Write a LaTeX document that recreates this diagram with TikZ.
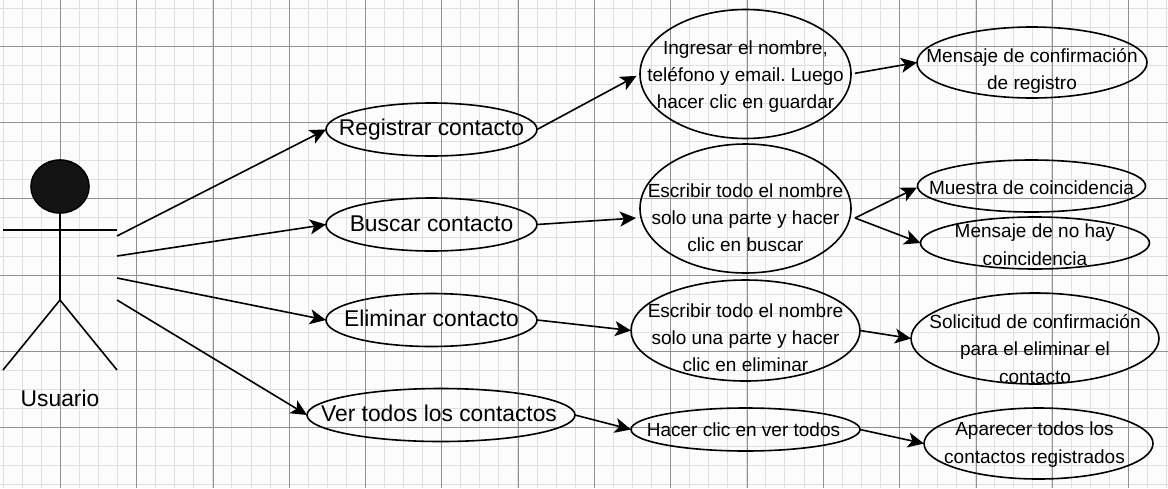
\documentclass[tikz,border=0pt]{standalone}
\usepackage{fontspec}
\setmainfont{Liberation Sans}
\usetikzlibrary{shapes.geometric,arrows.meta}

\newcommand\uctext[2][0pt]{\vbox to 0pt{\kern\dimexpr#1*2+4pt\relax\vss\hbox to 0pt{\hss\begin{tabular}{@{}c@{}}#2\end{tabular}\hss}\vss}}
\frenchspacing

\tikzset{
  usecase/.style n args={2}{ellipse,draw,line width=1.6pt,inner sep=0pt,outer sep=0pt,
    minimum width=#1pt,minimum height=#2pt,font=\fontsize{19}{27.4}\selectfont},
  mainfont/.style={font=\fontsize{22.8}{24}\selectfont},
  assoc/.style={line width=1.6pt,-{Stealth[length=16pt,width=15pt,inset=4pt]}},
  figure/.style={line width=1.6pt}
}

\begin{document}
\begin{tikzpicture}[x=1pt,y=-1pt]

\definecolor{fondo}{HTML}{FCFCFC}
\definecolor{rejillafina}{HTML}{E0E0E0}
\definecolor{rejillagruesa}{HTML}{909090}
\definecolor{cabeza}{HTML}{141414}

\useasboundingbox (0,0) rectangle (1168,488);
\fill[fondo] (0,0) rectangle (1168,488);

\foreach \i in {-3,...,58} {
  \pgfmathsetmacro\gx{60.3+19.07*\i}
  \draw[rejillafina,line width=1pt] (\gx,0) -- (\gx,488);
}
\foreach \i in {-2,...,23} {
  \pgfmathsetmacro\gy{46.3+19.07*\i}
  \draw[rejillafina,line width=1pt] (0,\gy) -- (1168,\gy);
}
\foreach \i in {0,...,14} {
  \pgfmathsetmacro\gx{60.3+76.3*\i}
  \draw[rejillagruesa,line width=.8pt] (\gx,0) -- (\gx,488);
}
\foreach \i in {0,...,5} {
  \pgfmathsetmacro\gy{46.3+76.25*\i}
  \draw[rejillagruesa,line width=.8pt] (0,\gy) -- (1168,\gy);
}

\node[ellipse,draw,figure,fill=cabeza,minimum width=58pt,minimum height=53pt,inner sep=0pt] (head) at (60,186.5) {};
\coordinate (hip) at (60,300);
\coordinate (armL) at (3,230);
\coordinate (armR) at (117,230);
\coordinate (footL) at (3,370);
\coordinate (footR) at (117,370);
\draw[figure] (head.south) -- (hip);
\draw[figure] (armL) -- (armR);
\draw[figure] (footL) -- (hip) -- (footR);
\node[mainfont,inner sep=0pt] (usuario) at (60,398) {Usuario};

\node[usecase={211}{53},mainfont] (registrar) at (431.5,129.5) {\uctext[-1pt]{Registrar contacto}};
\node[usecase={211}{53},mainfont] (buscar) at (431.5,224.5) {\uctext[.5pt]{Buscar contacto}};
\node[usecase={211}{53},mainfont] (eliminar) at (431.5,320) {\uctext{Eliminar contacto}};
\node[usecase={268}{53},mainfont] (vertodos) at (441,415) {\uctext{Ver todos los contactos\kern4pt}};

\node[usecase={211}{129}] (ingresar) at (745.5,74) {\uctext{Ingresar el nombre,\\teléfono y email. Luego\\hacer clic en guardar}};
\node[usecase={211}{129}] (escribirB) at (745.5,208.5) {\uctext[8.5pt]{Escribir todo el nombre\\solo una parte y hacer\\clic en buscar}};
\node[usecase={229}{101}] (escribirE) at (745.5,330.5) {\uctext[6.5pt]{Escribir todo el nombre\\solo una parte y hacer\\clic en eliminar}};
\node[usecase={229}{43}] (hacerclic) at (745.5,429.5) {\uctext{Hacer clic en ver todos\kern4pt}};

\node[usecase={230}{71}] (confirma) at (1032,62.5) {\uctext[6pt]{Mensaje de confirmación\\de registro}};
\node[usecase={228}{52}] (muestra) at (1031.5,186) {\uctext[1pt]{Muestra de coincidencia}};
\node[usecase={229}{52}] (nohay) at (1035,243) {\uctext[1pt]{Mensaje de no hay\\coincidencia}};
\node[usecase={248}{91}] (solicitud) at (1035,338.5) {\uctext[10pt]{Solicitud de confirmación\\para el eliminar el\\contacto}};
\node[usecase={229}{71}] (aparecer) at (1038.5,443.5) {\uctext[-1.5pt]{Aparecer todos los\kern8pt\\contactos registrados\kern8pt}};

\coordinate (brazoA) at (117,236);
\coordinate (brazoB) at (117,256);
\coordinate (brazoC) at (117,278);
\coordinate (brazoD) at (117,300);
\coordinate (escribirBin) at (636,218);
\coordinate (escribirBout) at (855,218);
\coordinate (muestraIn) at (917,187.5);

\draw[assoc] (brazoA) -- (registrar.west);
\draw[assoc] (brazoB) -- (buscar.west);
\draw[assoc] (brazoC) -- (eliminar.west);
\draw[assoc] (brazoD) -- (vertodos.west);

\draw[assoc,shorten >=4pt] (registrar.east) -- (ingresar.west);
\draw[assoc] (buscar.east) -- (escribirBin);
\draw[assoc] (eliminar.east) -- (escribirE.west);
\draw[assoc] (vertodos.east) -- (hacerclic.west);

\draw[assoc,shorten <=4pt] (ingresar.east) -- (confirma.west);
\draw[assoc] (escribirBout) -- (muestraIn);
\draw[assoc] (escribirBout) -- (nohay.west);
\draw[assoc] (escribirE.east) -- (solicitud.west);
\draw[assoc] (hacerclic.east) -- (aparecer.west);

\end{tikzpicture}
\end{document}
